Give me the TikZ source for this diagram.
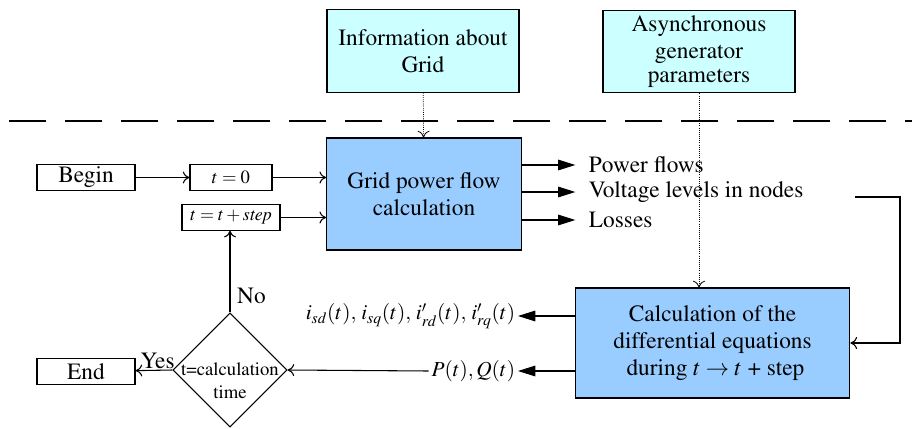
\documentclass[tikz,border=0pt]{standalone}
\usepackage[T1]{fontenc}
\usepackage{mathptmx}
\usepackage{tikz}
\usetikzlibrary{shapes.geometric,arrows.meta,positioning,calc}

\begin{document}
\begin{tikzpicture}[
    x=0.75pt, y=-0.75pt,
    box/.style={rectangle, draw=black, thick, inner sep=0pt, align=center, font=\fontsize{17.5}{20}\selectfont},
    inbox/.style={box, fill={rgb,255:red,204;green,255;blue,255}, minimum width=144pt, minimum height=62pt},
    calcbox/.style={box, fill={rgb,255:red,153;green,204;blue,255}, minimum height=84pt},
    smallbox/.style={box, minimum width=73.5pt, minimum height=19pt},
    decision/.style={diamond, draw=black, thick, inner sep=0pt, minimum width=85.5pt, minimum height=85.5pt},
    lbl/.style={inner sep=2pt, font=\fontsize{17.5}{20}\selectfont},
    arr/.style={-{To[length=5pt,width=9pt]}, thick},
    farr/.style={-{Triangle[length=13pt,width=8pt]}, thick},
    dotarr/.style={-{To[length=5pt,width=9pt]}, densely dotted, semithick},
  ]
    \useasboundingbox (0,0) rectangle (912,428);

    % Inputs above the dashed line
    \node[inbox] (info) at (423,51) {Information about\\Grid};
    \node[inbox] (async) at (699,51.5) {Asynchronous\\generator\\[-2pt]parameters};
    \draw[line width=1.5pt, dash pattern=on 28pt off 14pt] (9,121) -- (912,121);

    % Main blocks
    \node[calcbox, minimum width=146pt] (grid) at (424,194) {Grid power flow\\calculation};
    \node[calcbox, minimum width=206pt, minimum height=82.5pt] (calc) at (712.5,343) {Calculation of the\\differential equations\\\ during $t \rightarrow t$ + step};

    % Time loop
    \node[smallbox] (begin) at (86,177.5) {Begin};
    \node[smallbox, minimum width=61.5pt, font=\fontsize{14}{16}\selectfont] (tzero) at (231,177.5) {$t = 0$};
    \node[smallbox, font=\fontsize{13.5}{15}\selectfont] (tstep) at (231,217.5) {$t = t + \mathit{step}$};
    \node[decision] (cond) at (230,370) {};
    \node[inner sep=0pt, align=center, font=\fontsize{14}{17}\selectfont] (condtext) at (230,381) {t=calculation\\time};
    \node[smallbox, minimum height=20pt] (endn) at (86,371.5) {End};

    \draw[arr] (begin) -- (tzero);
    \draw[arr] (tzero) -- (tzero -| grid.west);
    \draw[arr] (tstep) -- (tstep -| grid.west);
    \draw[arr] (cond.north) -- (cond.north |- tstep.south) node[pos=0.2, right=3pt, lbl] {No};
    \draw[arr] (cond.west) -- (endn) node[pos=0.4, above=-1pt, lbl] {Yes};

    % Grid outputs
    \node[lbl, anchor=west] (pf) at (586,165) {Power flows};
    \node[lbl, anchor=west] (vl) at (586,192) {Voltage levels in nodes};
    \node[lbl, anchor=west] (ls) at (586,220) {Losses};
    \foreach \o in {pf,vl,ls}
      \draw[farr, shorten >=8pt] (grid.east |- \o) -- (\o.west);

    % Input data
    \draw[dotarr] (info) -- (grid);
    \draw[dotarr] (async.south) -- (async.south |- calc.north);

    % Feedback into the differential equations
    \coordinate (fb) at (855,197);
    \coordinate (fbc) at (900,343);
    \draw[arr] (fb) -| (fbc) -- (calc.east);

    % Outputs of the generator model
    \node[lbl, anchor=east, font=\fontsize{16}{19}\selectfont] (cur) at (518,316) {$i_{sd}(t),\, i_{sq}(t),\, i'_{rd}(t),\, i'_{rq}(t)$};
    \node[lbl, anchor=east, font=\fontsize{16}{19}\selectfont] (pq) at (518,371) {$P(t),Q(t)$};
    \draw[farr] (calc.west |- cur) -- (cur.east);
    \draw[farr] (calc.west |- pq) -- (pq.east);
    \draw[arr] (pq.west) -- (cond.east);

  \end{tikzpicture}
\end{document}
